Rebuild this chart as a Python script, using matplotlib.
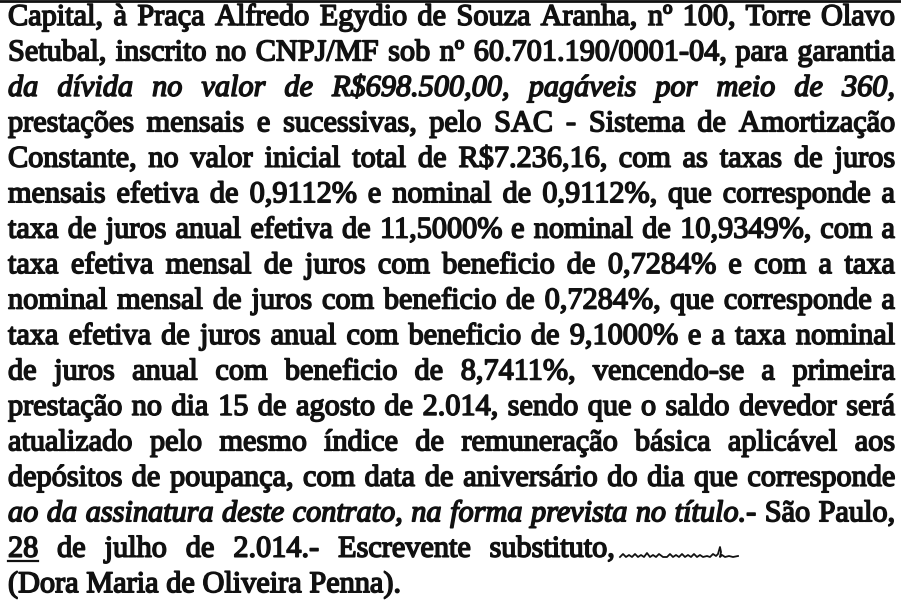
import matplotlib
matplotlib.use('Agg')
import matplotlib.pyplot as plt
from matplotlib import patheffects

# texto do documento, linha a linha
linhas = [
    "Capital, à Praça Alfredo Egydio de Souza Aranha, nº 100, Torre Olavo",
    "Setubal, inscrito no CNPJ/MF sob nº 60.701.190/0001-04, para garantia",
    "da dívida no valor de R$698.500,00, pagáveis por meio de 360,",
    "prestações mensais e sucessivas, pelo SAC - Sistema de Amortização",
    "Constante, no valor inicial total de R$7.236,16, com as taxas de juros",
    "mensais efetiva de 0,9112% e nominal de 0,9112%, que corresponde a",
    "taxa de juros anual efetiva de 11,5000% e nominal de 10,9349%, com a",
    "taxa efetiva mensal de juros com beneficio de 0,7284% e com a taxa",
    "nominal mensal de juros com beneficio de 0,7284%, que corresponde a",
    "taxa efetiva de juros anual com beneficio de 9,1000% e a taxa nominal",
    "de juros anual com beneficio de 8,7411%, vencendo-se a primeira",
    "prestação no dia 15 de agosto de 2.014, sendo que o saldo devedor será",
    "atualizado pelo mesmo índice de remuneração básica aplicável aos",
    "depósitos de poupança, com data de aniversário do dia que corresponde",
    "ao da assinatura deste contrato, na forma prevista no título.- São Paulo,",
    "28 de julho de 2.014.- Escrevente substituto,",
    "(Dora Maria de Oliveira Penna).",
]
# quantas palavras em italico no inicio de cada linha
italico = {2: 99, 14: 10}
nao_justificadas = [16]
fim_linha = {15: 614}  # linha curta antes da rubrica
sublinhado = (15, 0)  # linha, palavra

# rubrica
sig_x = [620, 623, 626, 629, 632, 635, 638, 641, 644, 647, 650, 653, 656, 659, 663,
         667, 670, 673, 676, 679, 682, 685, 688, 691, 694, 697, 700, 703, 707,
         710, 713, 716, 718, 720, 721, 720, 722, 725, 729, 733, 738]
sig_y = [557, 554, 557, 555, 557, 554, 557, 555, 557, 553, 557, 555, 557, 554, 557,
         557, 554, 557, 555, 557, 554, 557, 555, 557, 554, 557, 555, 557, 556,
         557, 554, 556, 554, 547, 552, 557, 555, 557, 556, 557, 556]

W, H = 901, 605
fig = plt.figure(figsize=(9.01, 6.05), dpi=100)
ax = fig.add_axes([0, 0, 1, 1])
ax.set_xlim(0, W)
ax.set_ylim(H, 0)
ax.axis('off')

fonte = 'Liberation Serif'
fs = 21.8
x_esq, x_dir = 8, 895
y0, passo = 25, 35.45
tinta = '#111111'
efeito = [patheffects.withStroke(linewidth=1.1, foreground=tinta)]

renderer = fig.canvas.get_renderer()


def largura(t):
    return t.get_window_extent(renderer).width


ref1 = ax.text(0, 0, 'x x', fontsize=fs, family=fonte)
ref2 = ax.text(0, 0, 'xx', fontsize=fs, family=fonte)
esp = largura(ref1) - largura(ref2)
ref1.remove()
ref2.remove()

for i, linha in enumerate(linhas):
    palavras = linha.split(' ')
    n_it = italico.get(i, 0)
    y = y0 + i * passo
    objs = []
    for j, p in enumerate(palavras):
        estilo = 'italic' if j < n_it else 'normal'
        t = ax.text(0, y, p, fontsize=fs, family=fonte, style=estilo,
                    color=tinta, va='baseline', ha='left', path_effects=efeito)
        objs.append(t)
    ws = [largura(t) for t in objs]
    if i in nao_justificadas or len(objs) < 2:
        gap = esp
    else:
        gap = (fim_linha.get(i, x_dir) - x_esq - sum(ws)) / (len(objs) - 1)
    x = x_esq
    for j, (t, w) in enumerate(zip(objs, ws)):
        t.set_x(x)
        if (i, j) == sublinhado:
            ax.plot([x, x + w], [y + 4, y + 4], color=tinta, lw=1.6)
        x += w + gap

# borda superior do recorte
ax.plot([0, W], [1, 1], color=tinta, lw=2)
ax.plot(sig_x, sig_y, color=tinta, lw=1.3)

fig.savefig('out.png', dpi=100, facecolor='white')
